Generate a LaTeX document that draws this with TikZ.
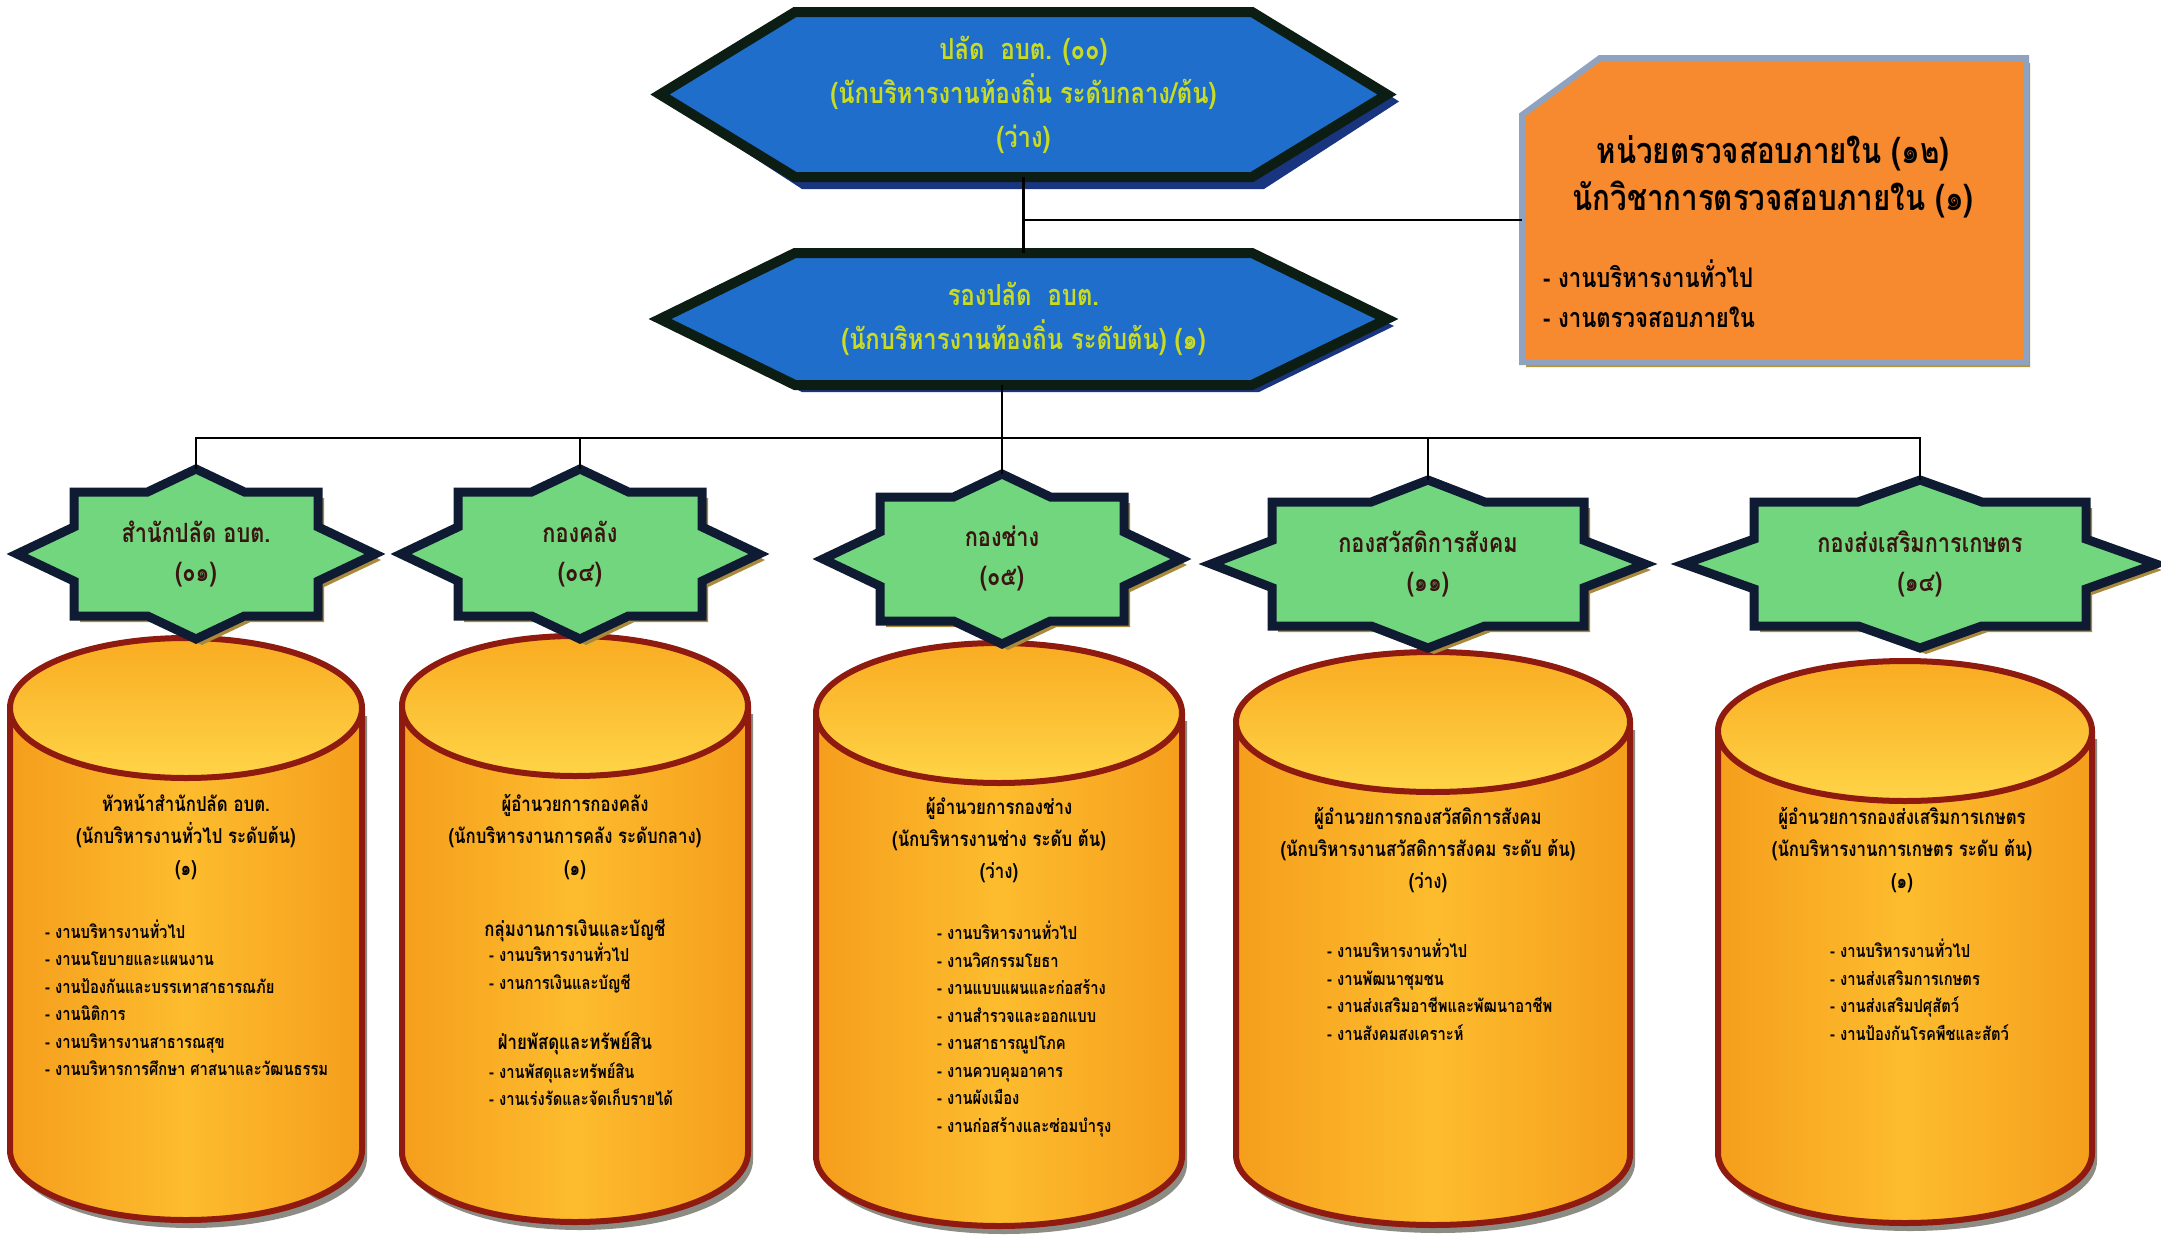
\documentclass[tikz,border=0pt]{standalone}
\usepackage{fontspec}
\newfontfamily\thai[Script=Thai, FakeStretch=0.82]{Loma}
\usetikzlibrary{calc}
\definecolor{hexFill}{HTML}{1F6ECC}
\definecolor{hexBorder}{HTML}{0C1D14}
\definecolor{hexShadow}{HTML}{1A3580}
\definecolor{hexText}{HTML}{C9DC22}
\definecolor{starFill}{HTML}{72D67E}
\definecolor{starBorder}{HTML}{0F1B33}
\definecolor{starShadow}{HTML}{A88A3A}
\definecolor{starText}{HTML}{3A1410}
\definecolor{audFill}{HTML}{F7892F}
\definecolor{audBorder}{HTML}{8FA3C0}
\definecolor{audShadow}{HTML}{B8963C}
\definecolor{cylSide}{HTML}{F59E1C}
\definecolor{cylMid}{HTML}{FDBC2E}
\definecolor{cylTopA}{HTML}{F9AC22}
\definecolor{cylTopB}{HTML}{FFD447}
\definecolor{cylBorder}{HTML}{8E1A10}
\definecolor{cylShadow}{HTML}{8C8C84}
\tikzset{
  x=1pt, y=1pt,
  conn/.style={draw=black, line width=2.2pt},
  hexshape/.style={fill=hexFill, draw=hexBorder, line width=10pt, line join=miter},
  hexshadow/.style={fill=hexShadow},
  hextext/.style={text=hexText, font=\thai\bfseries\fontsize{29}{44}\selectfont, align=center, inner sep=0pt},
  starshape/.style={fill=starFill, draw=starBorder, line width=9pt, line join=miter},
  starshadow/.style={fill=starShadow},
  startext/.style={text=starText, font=\thai\bfseries\fontsize{26.5}{39}\selectfont, align=center, inner sep=0pt},
  audshape/.style={fill=audFill, draw=audBorder, line width=6pt, line join=miter},
  audtitle/.style={text=black, font=\thai\bfseries\fontsize{36}{47}\selectfont, align=center, inner sep=0pt},
  audlist/.style={text=black, font=\thai\bfseries\fontsize{27}{40}\selectfont, align=left, inner sep=0pt, anchor=west},
  cylline/.style={draw=cylBorder, line width=6pt},
  cylhead/.style={text=black, font=\thai\bfseries\fontsize{20.5}{32}\selectfont, align=center, inner sep=0pt},
  cyllist/.style={text=black, font=\thai\bfseries\fontsize{18}{27.5}\selectfont, align=left, inner sep=0pt, anchor=west},
}
% eight-point star: name, cx, cy, a, b, p, q, text
\newcommand\octstar[8]{%
  \pgfmathsetmacro\stx{#4*(1-#7/#5)}%
  \pgfmathsetmacro\sty{#5*(1-#6/#4)}%
  \def\starpts{(0,#5) -- (\stx,#7) -- (#6,#7) -- (#6,\sty) -- (#4,0) -- (#6,-\sty) -- (#6,-#7) -- (\stx,-#7) -- (0,-#5) -- (-\stx,-#7) -- (-#6,-#7) -- (-#6,-\sty) -- (-#4,0) -- (-#6,\sty) -- (-#6,#7) -- (-\stx,#7) -- cycle}%
  \begin{scope}[shift={(#2+6,-#3-6)}]
    \fill[starshadow] \starpts;
  \end{scope}
  \begin{scope}[shift={(#2,-#3)}]
    \draw[starshape] \starpts;
  \end{scope}
  \node[startext, minimum width=2*#4, minimum height=2*#5] (#1) at (#2,-#3) {#8};
}
% cylinder: cx, rx, ytop, ybot, ry
\newcommand\cylinder[5]{%
  \fill[cylShadow] (#1-#2+5,-#3-8) -- (#1-#2+5,-#4-8) arc[start angle=180, end angle=360, x radius=#2, y radius=#5] -- (#1+#2+5,-#3-8) -- cycle;
  \shade[left color=cylSide, right color=cylSide, middle color=cylMid] (#1-#2,-#3) -- (#1-#2,-#4) arc[start angle=180, end angle=360, x radius=#2, y radius=#5] -- (#1+#2,-#3) -- cycle;
  \draw[cylline] (#1-#2,-#3) -- (#1-#2,-#4) arc[start angle=180, end angle=360, x radius=#2, y radius=#5] -- (#1+#2,-#3);
  \shade[top color=cylTopA, bottom color=cylTopB] (#1,-#3) ellipse[x radius=#2, y radius=#5];
  \draw[cylline] (#1,-#3) ellipse[x radius=#2, y radius=#5];
}
\begin{document}
\begin{tikzpicture}
\fill[white] (0,0) rectangle (2161,-1237);
\useasboundingbox (0,0) rectangle (2161,-1237);

% ---------- hexagons ----------
\fill[hexshadow] (667,-101.5) -- (802,-14) -- (1264,-14) -- (1399,-101.5) -- (1264,-189) -- (802,-189) -- cycle;
\draw[hexshape] (660,-94.5) -- (795,-12) -- (1252,-12) -- (1387,-94.5) -- (1252,-177) -- (795,-177) -- cycle;
\node[hextext, minimum width=727, minimum height=165] (h1) at (1023.5,-94.5)
  {ปลัด\ \ อบต. (๐๐)\\(นักบริหารงานท้องถิ่น ระดับกลาง/ต้น)\\(ว่าง)};

\fill[hexshadow] (667,-326) -- (802,-260) -- (1259,-260) -- (1394,-326) -- (1259,-392) -- (802,-392) -- cycle;
\draw[hexshape] (660,-319) -- (795,-253) -- (1252,-253) -- (1387,-319) -- (1252,-385) -- (795,-385) -- cycle;
\node[hextext, minimum width=727, minimum height=132] (h2) at (1023.5,-319)
  {รองปลัด\ \ อบต.\\(นักบริหารงานท้องถิ่น ระดับต้น) (๑)};

% ---------- audit box ----------
\fill[audShadow] (1526,-120) -- (1604,-63) -- (2030,-63) -- (2030,-367) -- (1526,-367) -- cycle;
\draw[audshape] (1522,-115) -- (1600,-58) -- (2026,-58) -- (2026,-362) -- (1522,-362) -- cycle;
\node[minimum width=504, minimum height=304, inner sep=0pt] (aud) at (1774,-210) {};
\node[audtitle] (audT) at (1773,-177) {หน่วยตรวจสอบภายใน (๑๒)\\นักวิชาการตรวจสอบภายใน (๑)};
\node[audlist] (audL) at (1543,-294) {- งานบริหารงานทั่วไป\\- งานตรวจสอบภายใน};

% ---------- connectors (top) ----------
\draw[conn] (h1.south) -- (h2.north);
\coordinate (j1) at (1023.5,-220);
\draw[conn] (j1) -- (j1 -| aud.west);

% ---------- cylinders ----------
\cylinder{186}{176}{708}{1150}{70}
\cylinder{575}{173}{706}{1152}{70}
\cylinder{999}{183}{713}{1156}{70}
\cylinder{1433}{197}{722}{1155}{70}
\cylinder{1905}{187}{731}{1153}{70}

% ---------- stars ----------
\octstar{s1}{196}{554}{179}{85}{122}{62}{สำนักปลัด อบต.\\(๐๑)}
\octstar{s2}{580}{554}{179}{85}{122}{62}{กองคลัง\\(๐๔)}
\octstar{s3}{1002}{559}{179}{85}{122}{62}{กองช่าง\\(๐๕)}
\octstar{s4}{1428}{564}{217}{84}{156}{62}{กองสวัสดิการสังคม\\(๑๑)}
\octstar{s5}{1920}{564}{236}{84}{166}{62}{กองส่งเสริมการเกษตร\\(๑๔)}

% ---------- bus ----------
\coordinate (bus) at (1002,-438);
\draw[conn] ([xshift=-21.5pt]h2.south) -- (bus);
\draw[conn] (s1.north) -- (s1.north |- bus) -- (s5.north |- bus) -- (s5.north);
\draw[conn] (s2.north) -- (s2.north |- bus);
\draw[conn] (s3.north) -- (s3.north |- bus);
\draw[conn] (s4.north) -- (s4.north |- bus);

% ---------- cylinder texts ----------
\node[cylhead] (c1h) at (186,-837) {หัวหน้าสำนักปลัด อบต.\\(นักบริหารงานทั่วไป ระดับต้น)\\(๑)};
\node[cyllist] (c1l) at (45,-998) {- งานบริหารงานทั่วไป\\- งานนโยบายและแผนงาน\\- งานป้องกันและบรรเทาสาธารณภัย\\- งานนิติการ\\- งานบริหารงานสาธารณสุข\\- งานบริหารการศึกษา ศาสนาและวัฒนธรรม};

\node[cylhead] (c2h) at (575,-837) {ผู้อำนวยการกองคลัง\\(นักบริหารงานการคลัง ระดับกลาง)\\(๑)};
\node[cylhead] (c2s1) at (575,-930) {กลุ่มงานการเงินและบัญชี};
\node[cyllist] (c2l1) at (489,-968) {- งานบริหารงานทั่วไป\\- งานการเงินและบัญชี};
\node[cylhead] (c2s2) at (575,-1043) {ฝ่ายพัสดุและทรัพย์สิน};
\node[cyllist] (c2l2) at (489,-1084) {- งานพัสดุและทรัพย์สิน\\- งานเร่งรัดและจัดเก็บรายได้};

\node[cylhead] (c3h) at (999,-840) {ผู้อำนวยการกองช่าง\\(นักบริหารงานช่าง ระดับ ต้น)\\(ว่าง)};
\node[cyllist] (c3l) at (937,-1029) {- งานบริหารงานทั่วไป\\- งานวิศกรรมโยธา\\- งานแบบแผนและก่อสร้าง\\- งานสำรวจและออกแบบ\\- งานสาธารณูปโภค\\- งานควบคุมอาคาร\\- งานผังเมือง\\- งานก่อสร้างและซ่อมบำรุง};

\node[cylhead] (c4h) at (1428,-850) {ผู้อำนวยการกองสวัสดิการสังคม\\(นักบริหารงานสวัสดิการสังคม ระดับ ต้น)\\(ว่าง)};
\node[cyllist] (c4l) at (1327,-990) {- งานบริหารงานทั่วไป\\- งานพัฒนาชุมชน\\- งานส่งเสริมอาชีพและพัฒนาอาชีพ\\- งานสังคมสงเคราะห์};

\node[cylhead] (c5h) at (1902,-850) {ผู้อำนวยการกองส่งเสริมการเกษตร\\(นักบริหารงานการเกษตร ระดับ ต้น)\\(๑)};
\node[cyllist] (c5l) at (1830,-990) {- งานบริหารงานทั่วไป\\- งานส่งเสริมการเกษตร\\- งานส่งเสริมปศุสัตว์\\- งานป้องกันโรคพืชและสัตว์};
\end{tikzpicture}
\end{document}
